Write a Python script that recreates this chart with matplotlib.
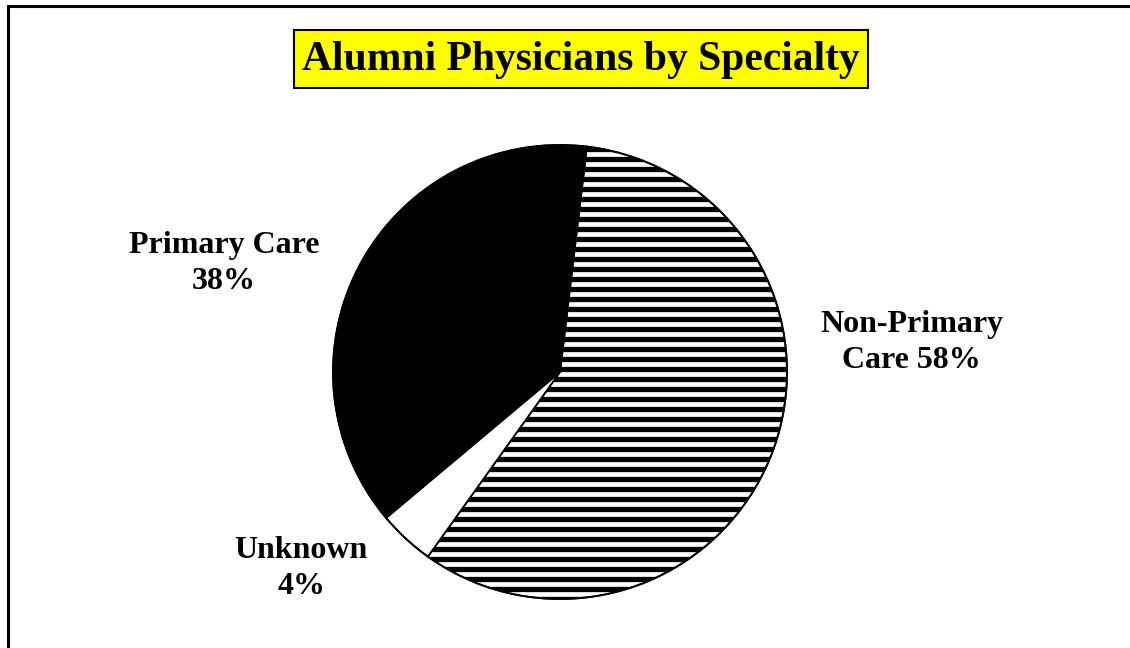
import numpy as np
import matplotlib
matplotlib.use('Agg')
import matplotlib.pyplot as plt
from matplotlib.patches import Rectangle

# data
categories = ['Non-Primary\nCare 58%', 'Unknown\n4%', 'Primary Care\n38%']
shares = [58, 4, 38]
colors = ['white', 'white', 'black']
title = 'Alumni Physicians by Specialty'

# label offsets from pie centre, in pie radii
label_pos = [(1.55, 0.13), (-1.14, -0.865), (-1.48, 0.48)]

W, H = 1130, 648
cx, cy, R = 560, 372, 227   # pie centre / radius in pixels

plt.rcParams['font.family'] = ['Liberation Serif', 'DejaVu Serif']
plt.rcParams['font.weight'] = 'bold'

fig = plt.figure(figsize=(W / 100, H / 100), dpi=100)
ax = fig.add_axes([0, 0, 1, 1])
ax.axis('off')

wedges, _ = ax.pie(shares, colors=colors, startangle=83.2, counterclock=False,
                   radius=1, wedgeprops=dict(edgecolor='black', linewidth=1.3))
ax.set_xlim(-cx / R, (W - cx) / R)
ax.set_ylim(-(H - cy) / R, cy / R)
ax.set_aspect('auto')

# horizontal stripe fill for the Non-Primary slice
ys = np.arange(-1.0, 1.0, 10 / R)
lines = ax.hlines(ys, -1.05, 1.05, colors='black', linewidth=3.8,
                  zorder=wedges[0].get_zorder() + 0.1)
lines.set_clip_path(wedges[0])
ax.add_patch(plt.Circle((0, 0), 1, fill=False, edgecolor='black', linewidth=1.3, zorder=5))

for lab, (lx, ly) in zip(categories, label_pos):
    ax.text(lx, ly, lab, ha='center', va='center', fontsize=23, fontweight='bold',
            linespacing=1.32)

# title box
fig.patches.append(Rectangle((294 / W, (H - 88) / H), 574 / W, 58 / H, transform=fig.transFigure,
                             facecolor='#ffff00', edgecolor='black', linewidth=1.5, zorder=1))
fig.text(581 / W, (H - 60) / H, title, ha='center', va='center', fontsize=30,
         fontweight='bold', zorder=2)

# frame: only top and left edges visible
fig.patches.append(Rectangle((7.5 / W, -0.1), 1.2, (H - 6.5) / H + 0.1, transform=fig.transFigure,
                             fill=False, edgecolor='black', linewidth=2.2))

fig.savefig('out.png', dpi=100)
